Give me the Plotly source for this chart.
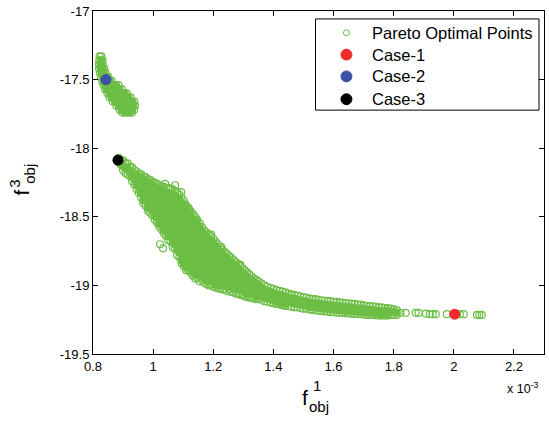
import plotly.graph_objects as go

# ---- Data (x values in units of 1e-3) ----
# upper cluster, listed by rows: one y value and the x values of the points on that row
upper_row_y = [-17.33, -17.36, -17.39, -17.42, -17.45, -17.48, -17.51, -17.54, -17.57,
               -17.60, -17.63, -17.66, -17.69, -17.72, -17.74]
upper_row_x = [
    [0.822, 0.828],
    [0.821, 0.827, 0.832],
    [0.820, 0.826, 0.832],
    [0.820, 0.826, 0.832, 0.838],
    [0.823, 0.829, 0.835, 0.841],
    [0.826, 0.832, 0.838, 0.845, 0.851],
    [0.830, 0.836, 0.842, 0.849, 0.856, 0.862],
    [0.835, 0.841, 0.848, 0.855, 0.862, 0.869, 0.876, 0.885],
    [0.840, 0.846, 0.853, 0.860, 0.867, 0.874, 0.881, 0.888, 0.896],
    [0.848, 0.855, 0.862, 0.869, 0.876, 0.883, 0.890, 0.897, 0.905, 0.912],
    [0.855, 0.862, 0.869, 0.876, 0.883, 0.890, 0.897, 0.904, 0.911, 0.918, 0.925],
    [0.866, 0.873, 0.880, 0.887, 0.894, 0.901, 0.908, 0.915, 0.922, 0.930, 0.937],
    [0.878, 0.885, 0.892, 0.899, 0.906, 0.913, 0.920, 0.927, 0.934, 0.940],
    [0.888, 0.895, 0.902, 0.909, 0.916, 0.923, 0.930, 0.937],
    [0.898, 0.906, 0.914, 0.922, 0.930],
]

# main front, listed by columns: one x value and the y values of the points in that column
main_col_x = [0.885, 0.8925, 0.90, 0.9075, 0.915, 0.9225, 0.93, 0.9375, 0.945, 0.9525,
              0.96, 0.9675, 0.975, 0.9825, 0.99, 0.9975, 1.005, 1.0125, 1.02, 1.0275,
              1.035, 1.0425, 1.05, 1.0575, 1.065, 1.0725, 1.08, 1.0875, 1.095, 1.1025,
              1.11, 1.1175, 1.125, 1.1325, 1.14, 1.1475, 1.155, 1.1625, 1.17, 1.1775,
              1.185, 1.1925, 1.20, 1.2075, 1.215, 1.2225, 1.23, 1.2375, 1.245, 1.2525,
              1.26, 1.2675, 1.275, 1.2825, 1.29, 1.2975, 1.305, 1.3125, 1.32, 1.3275,
              1.335, 1.3425, 1.35, 1.36, 1.37, 1.38, 1.39, 1.40, 1.41, 1.42, 1.43, 1.44,
              1.45, 1.46, 1.47, 1.48, 1.49, 1.50, 1.51, 1.52, 1.53, 1.54, 1.55, 1.56,
              1.57, 1.58, 1.59, 1.60, 1.61, 1.62, 1.63, 1.64, 1.65, 1.66, 1.67, 1.68,
              1.69, 1.70, 1.71, 1.72, 1.73, 1.74, 1.75, 1.76, 1.77, 1.78, 1.79, 1.80, 1.81]
main_col_y = [
    [-18.07, -18.10],
    [-18.085, -18.12],
    [-18.09, -18.13, -18.16],
    [-18.11, -18.145, -18.18],
    [-18.11, -18.15, -18.19],
    [-18.135, -18.17, -18.205],
    [-18.14, -18.18, -18.21, -18.24],
    [-18.16, -18.195, -18.23, -18.265],
    [-18.17, -18.20, -18.24, -18.27, -18.30],
    [-18.185, -18.22, -18.255, -18.29, -18.325],
    [-18.19, -18.22, -18.26, -18.29, -18.33, -18.36],
    [-18.205, -18.24, -18.275, -18.31, -18.345, -18.38, -18.40],
    [-18.21, -18.24, -18.28, -18.31, -18.35, -18.38, -18.42],
    [-18.225, -18.26, -18.295, -18.33, -18.365, -18.40, -18.435, -18.455],
    [-18.23, -18.26, -18.30, -18.33, -18.37, -18.40, -18.44, -18.47],
    [-18.245, -18.28, -18.315, -18.35, -18.385, -18.42, -18.455, -18.49],
    [-18.25, -18.28, -18.32, -18.35, -18.39, -18.42, -18.46, -18.49, -18.52],
    [-18.26, -18.295, -18.33, -18.365, -18.40, -18.435, -18.47, -18.505, -18.54],
    [-18.27, -18.30, -18.34, -18.37, -18.41, -18.44, -18.48, -18.51, -18.55, -18.57],
    [-18.28, -18.315, -18.35, -18.385, -18.42, -18.455, -18.49, -18.525, -18.56, -18.59],
    [-18.28, -18.32, -18.35, -18.39, -18.42, -18.46, -18.49, -18.53, -18.56, -18.60, -18.62],
    [-18.29, -18.325, -18.36, -18.395, -18.43, -18.465, -18.50, -18.535, -18.57, -18.605, -18.64],
    [-18.29, -18.33, -18.36, -18.40, -18.43, -18.47, -18.50, -18.54, -18.57, -18.61, -18.64, -18.67],
    [-18.295, -18.33, -18.365, -18.40, -18.435, -18.47, -18.505, -18.54, -18.575, -18.61, -18.645, -18.68],
    [-18.30, -18.34, -18.38, -18.41, -18.45, -18.48, -18.52, -18.55, -18.59, -18.62, -18.66, -18.69, -18.72],
    [-18.315, -18.35, -18.385, -18.42, -18.455, -18.49, -18.525, -18.56, -18.595, -18.63, -18.665, -18.70, -18.735],
    [-18.32, -18.36, -18.39, -18.43, -18.46, -18.50, -18.53, -18.57, -18.60, -18.64, -18.67, -18.71, -18.74, -18.78],
    [-18.34, -18.375, -18.41, -18.445, -18.48, -18.515, -18.55, -18.585, -18.62, -18.655, -18.69, -18.725, -18.76, -18.795],
    [-18.36, -18.40, -18.43, -18.47, -18.50, -18.54, -18.57, -18.61, -18.64, -18.68, -18.71, -18.75, -18.78, -18.82, -18.84],
    [-18.385, -18.42, -18.455, -18.49, -18.525, -18.56, -18.595, -18.63, -18.665, -18.70, -18.735, -18.77, -18.805, -18.84, -18.86],
    [-18.42, -18.45, -18.49, -18.52, -18.56, -18.59, -18.63, -18.66, -18.70, -18.73, -18.77, -18.80, -18.84, -18.87, -18.89],
    [-18.435, -18.47, -18.505, -18.54, -18.575, -18.61, -18.645, -18.68, -18.715, -18.75, -18.785, -18.82, -18.855, -18.89],
    [-18.46, -18.49, -18.53, -18.56, -18.60, -18.63, -18.67, -18.70, -18.74, -18.77, -18.81, -18.84, -18.88, -18.91],
    [-18.48, -18.515, -18.55, -18.585, -18.62, -18.655, -18.69, -18.725, -18.76, -18.795, -18.83, -18.865, -18.90, -18.93],
    [-18.50, -18.53, -18.57, -18.60, -18.64, -18.67, -18.71, -18.74, -18.78, -18.81, -18.85, -18.88, -18.92, -18.95],
    [-18.525, -18.56, -18.595, -18.63, -18.665, -18.70, -18.735, -18.77, -18.805, -18.84, -18.875, -18.91, -18.945],
    [-18.55, -18.58, -18.62, -18.65, -18.69, -18.72, -18.76, -18.79, -18.83, -18.86, -18.90, -18.93, -18.97],
    [-18.575, -18.61, -18.645, -18.68, -18.715, -18.75, -18.785, -18.82, -18.855, -18.89, -18.925, -18.96],
    [-18.60, -18.63, -18.67, -18.70, -18.74, -18.77, -18.81, -18.84, -18.88, -18.91, -18.95, -18.98],
    [-18.615, -18.65, -18.685, -18.72, -18.755, -18.79, -18.825, -18.86, -18.895, -18.93, -18.965, -18.99],
    [-18.63, -18.66, -18.70, -18.73, -18.77, -18.80, -18.84, -18.87, -18.91, -18.94, -18.97, -19.00],
    [-18.645, -18.68, -18.715, -18.75, -18.785, -18.82, -18.855, -18.89, -18.925, -18.96, -18.995],
    [-18.66, -18.69, -18.73, -18.76, -18.80, -18.83, -18.87, -18.90, -18.94, -18.97, -19.01],
    [-18.68, -18.715, -18.75, -18.785, -18.82, -18.855, -18.89, -18.925, -18.96, -18.995, -19.015],
    [-18.70, -18.73, -18.77, -18.80, -18.84, -18.87, -18.91, -18.94, -18.98, -19.02],
    [-18.72, -18.755, -18.79, -18.825, -18.86, -18.895, -18.93, -18.965, -19.00, -19.025],
    [-18.74, -18.77, -18.81, -18.84, -18.88, -18.91, -18.95, -18.98, -19.03],
    [-18.755, -18.79, -18.825, -18.86, -18.895, -18.93, -18.965, -19.00, -19.03],
    [-18.77, -18.80, -18.84, -18.87, -18.91, -18.94, -18.98, -19.01, -19.04],
    [-18.785, -18.82, -18.855, -18.89, -18.925, -18.96, -18.995, -19.03],
    [-18.80, -18.83, -18.87, -18.90, -18.94, -18.97, -19.01, -19.05],
    [-18.815, -18.85, -18.885, -18.92, -18.955, -18.99, -19.02, -19.05],
    [-18.83, -18.86, -18.90, -18.93, -18.97, -19.00, -19.03, -19.06],
    [-18.845, -18.88, -18.915, -18.95, -18.985, -19.02, -19.06],
    [-18.86, -18.89, -18.93, -18.96, -19.00, -19.03, -19.07],
    [-18.875, -18.91, -18.945, -18.98, -19.01, -19.04, -19.07],
    [-18.89, -18.92, -18.96, -18.99, -19.02, -19.05, -19.08],
    [-18.905, -18.94, -18.975, -19.005, -19.035, -19.065, -19.085],
    [-18.92, -18.95, -18.98, -19.02, -19.05, -19.09],
    [-18.935, -18.965, -19.00, -19.03, -19.06, -19.09],
    [-18.95, -18.98, -19.01, -19.04, -19.07, -19.095],
    [-18.96, -18.99, -19.02, -19.05, -19.08, -19.10],
    [-18.97, -19.00, -19.03, -19.06, -19.10],
    [-18.985, -19.015, -19.045, -19.075, -19.105],
    [-19.00, -19.03, -19.06, -19.09, -19.115],
    [-19.01, -19.04, -19.07, -19.095, -19.12],
    [-19.02, -19.05, -19.08, -19.10, -19.125],
    [-19.025, -19.055, -19.085, -19.11, -19.13],
    [-19.035, -19.065, -19.095, -19.12, -19.135],
    [-19.04, -19.07, -19.10, -19.125, -19.14],
    [-19.045, -19.075, -19.105, -19.13, -19.145],
    [-19.05, -19.08, -19.11, -19.135, -19.15],
    [-19.06, -19.09, -19.12, -19.15],
    [-19.065, -19.095, -19.125, -19.155],
    [-19.07, -19.10, -19.13, -19.16],
    [-19.075, -19.105, -19.135, -19.16],
    [-19.08, -19.11, -19.14, -19.165],
    [-19.085, -19.115, -19.145, -19.17],
    [-19.09, -19.12, -19.15, -19.17],
    [-19.095, -19.125, -19.155, -19.175],
    [-19.10, -19.13, -19.16, -19.18],
    [-19.10, -19.13, -19.16, -19.18],
    [-19.105, -19.135, -19.165, -19.185],
    [-19.11, -19.14, -19.165, -19.185],
    [-19.11, -19.14, -19.17, -19.19],
    [-19.115, -19.145, -19.17, -19.19],
    [-19.115, -19.145, -19.175, -19.195],
    [-19.12, -19.15, -19.175, -19.195],
    [-19.12, -19.15, -19.178, -19.198],
    [-19.125, -19.155, -19.18, -19.20],
    [-19.125, -19.155, -19.18, -19.20],
    [-19.13, -19.16, -19.185, -19.202],
    [-19.13, -19.16, -19.185, -19.205],
    [-19.135, -19.165, -19.19, -19.205],
    [-19.135, -19.165, -19.19, -19.208],
    [-19.14, -19.17, -19.19, -19.21],
    [-19.14, -19.17, -19.195, -19.21],
    [-19.145, -19.175, -19.195, -19.212],
    [-19.15, -19.175, -19.198, -19.215],
    [-19.15, -19.18, -19.20, -19.215],
    [-19.155, -19.18, -19.20, -19.215],
    [-19.155, -19.185, -19.205, -19.218],
    [-19.16, -19.185, -19.205, -19.22],
    [-19.16, -19.19, -19.21, -19.22],
    [-19.165, -19.19, -19.21, -19.22],
    [-19.165, -19.19, -19.21, -19.22],
    [-19.17, -19.195, -19.215],
    [-19.175, -19.195, -19.215],
    [-19.18, -19.20, -19.215],
]

# isolated points: the tail of the front and the scattered points above it
sparse_x = [1.823, 1.84, 1.873, 1.883, 1.907, 1.92, 1.93, 1.94, 1.977, 2.02, 2.033,
            2.077, 2.085, 2.093, 0.957, 1.04, 1.073, 1.093, 1.107, 1.12, 1.143, 1.193,
            1.227, 1.24, 1.29, 1.023, 1.033, 1.46]
sparse_y = [-19.20, -19.20, -19.20, -19.20, -19.205, -19.21, -19.21, -19.21, -19.21, -19.21, -19.21,
            -19.215, -19.215, -19.215, -18.21, -18.26, -18.27, -18.32, -18.41, -18.45, -18.52, -18.63,
            -18.72, -18.80, -18.85, -18.70, -18.73, -19.07]

case_names = ["Case-1", "Case-2", "Case-3"]
case_x = [2.003, 0.843, 0.883]
case_y = [-19.21, -17.50, -18.087]
case_colors = ["#EE2A2A", "#3A53A4", "#000000"]

x_tickvals = [0.8, 1.0, 1.2, 1.4, 1.6, 1.8, 2.0, 2.2]
x_ticktext = ["0.8", "1", "1.2", "1.4", "1.6", "1.8", "2", "2.2"]
y_tickvals = [-17, -17.5, -18, -18.5, -19, -19.5]
y_ticktext = ["-17", "-17.5", "-18", "-18.5", "-19", "-19.5"]

# ---- Build point arrays ----
pareto_x, pareto_y = [], []
inner_x, inner_y = [], []  # points surrounded by others: drawn solid, as overlapping rings look
for ry, xs in zip(upper_row_y, upper_row_x):
    for i, xv in enumerate(xs):
        pareto_x.append(xv)
        pareto_y.append(ry)
        if 0 < i < len(xs) - 1:
            inner_x.append(xv)
            inner_y.append(ry)
for cx, ys in zip(main_col_x, main_col_y):
    for i, yv in enumerate(ys):
        pareto_x.append(cx)
        pareto_y.append(yv)
        if 0 < i < len(ys) - 1:
            inner_x.append(cx)
            inner_y.append(yv)
pareto_x += sparse_x
pareto_y += sparse_y

GREEN = "#6DBE45"
FONT = "Liberation Sans, Arial, sans-serif"

# plot area in pixels
L, R, T, B = 93, 545, 8, 354
PW, PH = R - L, B - T


def px(xp):
    return (xp - L) / PW


def py(yp):
    return (B - yp) / PH


fig = go.Figure()
fig.add_trace(go.Scatter(
    x=inner_x, y=inner_y, mode="markers", name="Pareto Optimal Points (dense)", showlegend=False,
    hoverinfo="skip",
    marker=dict(symbol="circle", size=7, color=GREEN, line=dict(width=0)),
))
fig.add_trace(go.Scatter(
    x=pareto_x, y=pareto_y, mode="markers", name="Pareto Optimal Points", showlegend=False,
    marker=dict(symbol="circle-open", size=7, color=GREEN, line=dict(width=1.2, color=GREEN)),
))
for n, cx, cy, cc in zip(case_names, case_x, case_y, case_colors):
    fig.add_trace(go.Scatter(
        x=[cx], y=[cy], mode="markers", name=n, showlegend=False,
        marker=dict(symbol="circle", size=11, color=cc, line=dict(width=0)),
    ))

axis_common = dict(
    showline=True, linecolor="black", linewidth=1, mirror="ticks",
    ticks="inside", ticklen=5, tickcolor="black", tickwidth=1,
    showgrid=False, zeroline=False,
    tickfont=dict(family=FONT, size=13, color="black"),
)
fig.update_xaxes(range=[0.8, 2.3], tickvals=x_tickvals, ticktext=x_ticktext, **axis_common)
fig.update_yaxes(range=[-19.5, -17], tickvals=y_tickvals, ticktext=y_ticktext, **axis_common)

fig.update_layout(
    width=549, height=423,
    margin=dict(l=L, r=549 - R, t=T, b=423 - B),
    paper_bgcolor="white", plot_bgcolor="white",
    font=dict(family=FONT, color="black"),
    showlegend=False,
)

# ---- legend box (drawn) ----
shapes = [dict(type="rect", xref="paper", yref="paper", x0=px(316), x1=px(540), y0=py(108), y1=py(16),
               line=dict(color="black", width=1), fillcolor="white", layer="above")]
legend_labels = ["Pareto Optimal Points"] + case_names
legend_rows = [30, 52, 74, 97]
legend_r = [3, 5.5, 5.5, 5.5]
legend_fill = ["rgba(0,0,0,0)"] + case_colors
legend_line = [GREEN] + case_colors
for lab, ry, rr, fc, lc in zip(legend_labels, legend_rows, legend_r, legend_fill, legend_line):
    shapes.append(dict(type="circle", xref="paper", yref="paper",
                       x0=px(347 - rr), x1=px(347 + rr), y0=py(ry + rr), y1=py(ry - rr),
                       line=dict(color=lc, width=1), fillcolor=fc, layer="above"))
    fig.add_annotation(text=lab, xref="paper", yref="paper", x=px(371), y=py(ry),
                       xanchor="left", yanchor="middle", showarrow=False,
                       font=dict(family=FONT, size=16.5, color="black"))
fig.update_layout(shapes=shapes)

# ---- axis titles f^1_obj and f^3_obj ----
ann = [dict(text="f", x=305, y=398), dict(text="1", x=317, y=386, size=15),
       dict(text="obj", x=319, y=407, size=15)]
for a in ann:
    fig.add_annotation(text=a["text"], xref="paper", yref="paper", x=px(a["x"]), y=py(a["y"]),
                       showarrow=False, xanchor="center", yanchor="middle",
                       font=dict(family=FONT, size=a.get("size", 21), color="black"))
ann_rot = [dict(text="f", x=21, y=191), dict(text="3", x=14, y=182, size=15),
           dict(text="obj", x=29, y=172, size=15)]
for a in ann_rot:
    fig.add_annotation(text=a["text"], xref="paper", yref="paper", x=px(a["x"]), y=py(a["y"]),
                       textangle=-90, showarrow=False, xanchor="center", yanchor="middle",
                       font=dict(family=FONT, size=a.get("size", 21), color="black"))
# exponent note
fig.add_annotation(text="x 10<sup>-3</sup>", xref="paper", yref="paper",
                   x=px(542), y=py(388), xanchor="right", yanchor="middle",
                   showarrow=False, font=dict(family=FONT, size=12.5, color="black"))

fig.write_html("out.html", config={"displayModeBar": False},
               post_script="document.body.style.margin='0px';")
